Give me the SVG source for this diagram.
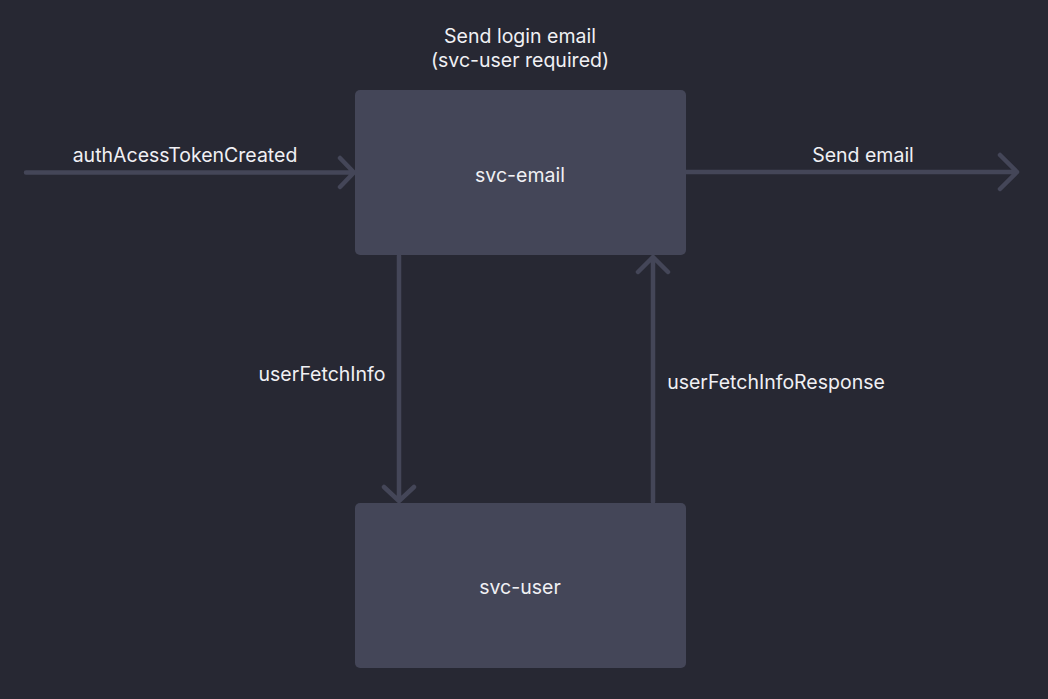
<svg xmlns="http://www.w3.org/2000/svg" width="1048" height="699" viewBox="0 0 1048 699">
<style>
.bg{fill:#272833}
.node{fill:#444658}
.edge{stroke:#444658;stroke-width:4.5;fill:none;stroke-linecap:round;stroke-linejoin:round}
text{font-family:Inter,"Noto Sans",sans-serif;font-size:19.5px;fill:#f0f0f4}
.c{text-anchor:middle}
</style>
<rect class="bg" x="0" y="0" width="1048" height="699"/>
<g id="connectors">
<path class="edge" d="M26,172.5 H354 M340,158 L354,172.5 L340,187"/>
<path class="edge" d="M686,172 H1017 M1000,155 L1017,172 L1000,189"/>
<path class="edge" d="M399,256 V501 M384,487 L399,501 L414,487"/>
<path class="edge" d="M653,502 V257 M638,272 L653,257 L668,272"/>
<text class="c" x="185" y="162">authAcessTokenCreated</text>
<text class="c" x="863" y="162">Send email</text>
<text class="c" x="322" y="381">userFetchInfo</text>
<text class="c" x="776" y="389">userFetchInfoResponse</text>
</g>
<g id="label-top">
<text class="c" x="520" y="43">Send login email</text>
<text class="c" x="520" y="67">(svc-user required)</text>
</g>
<g id="svc-email">
<rect class="node" x="355" y="90" width="331" height="165" rx="5"/>
<text class="c" x="520" y="182">svc-email</text>
</g>
<g id="svc-user">
<rect class="node" x="355" y="503" width="331" height="165" rx="5"/>
<text class="c" x="520" y="594">svc-user</text>
</g>
</svg>
